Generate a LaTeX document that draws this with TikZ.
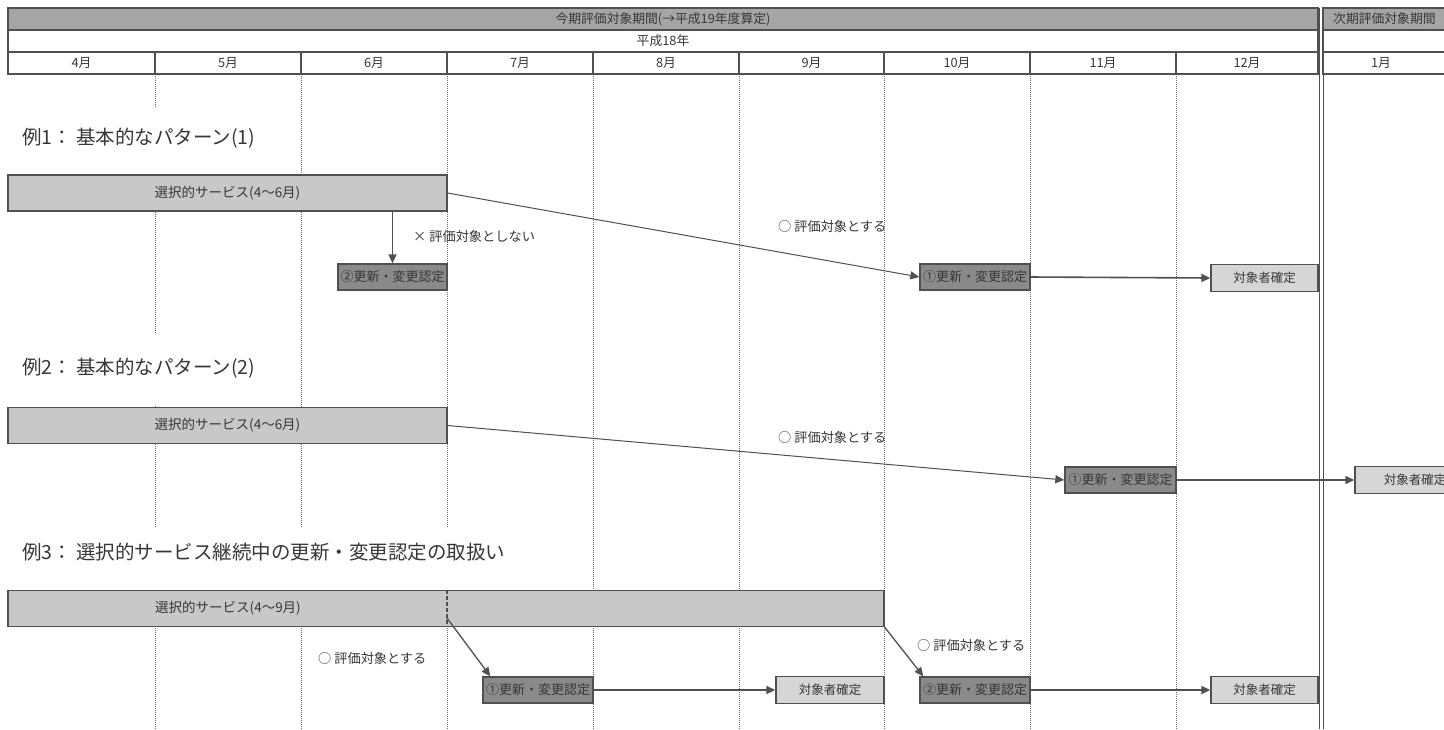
\documentclass[tikz,border=0pt]{standalone}
\usepackage{fontspec}
\setmainfont{Noto Sans CJK JP}
\usetikzlibrary{arrows.meta,calc}
\definecolor{hdrfill}{RGB}{165,165,165}
\definecolor{edge}{RGB}{80,80,80}
\definecolor{barfill}{RGB}{200,200,200}
\definecolor{darkfill}{RGB}{138,138,138}
\definecolor{lightfill}{RGB}{214,214,214}
\definecolor{txt}{RGB}{55,55,55}
\definecolor{gridc}{RGB}{110,110,110}
\begin{document}
\begin{tikzpicture}[x=1pt,y=-1pt,
  gridline/.style={gridc,line width=0.7pt,dash pattern=on 1.2pt off 0.8pt},
  hdrcell/.style={draw=edge,line width=1.2pt,fill=hdrfill,minimum height=22pt,inner sep=0pt,text=txt,font=\fontsize{12.8}{14}\selectfont},
  cell/.style={draw=edge,line width=1.2pt,fill=white,minimum height=22pt,inner sep=0pt,text=txt,font=\fontsize{12.8}{14}\selectfont},
  barbox/.style={draw=edge,line width=1.3pt,fill=barfill,minimum height=36pt,inner sep=0pt,text=txt,font=\fontsize{13.5}{15}\selectfont},
  darkbox/.style={draw=edge,line width=1.3pt,fill=darkfill,minimum height=26pt,inner sep=0pt,text=txt,font=\fontsize{13}{15}\selectfont},
  lightbox/.style={draw=edge,line width=1.3pt,fill=lightfill,minimum height=27pt,minimum width=107pt,inner sep=0pt,text=txt,font=\fontsize{12.5}{14}\selectfont},
  titletext/.style={anchor=west,inner sep=0pt,text=txt,font=\fontsize{19.5}{21}\selectfont},
  labeltext/.style={anchor=west,inner sep=0pt,text=txt,font=\fontsize{13.2}{15}\selectfont},
  bartext/.style={inner sep=0pt,text=txt,font=\fontsize{13.5}{15}\selectfont},
  arr/.style={edge,line width=1.6pt,-{Triangle[length=9pt,width=8pt]}},
  thinarr/.style={edge,line width=1pt,-{Triangle[length=9pt,width=8pt]}}
]
\useasboundingbox (0,0) rectangle (1444,729);
\fill[white] (0,0) rectangle (1444,729);

% month grid lines
\foreach \gx in {155,301,447,593,739,884,1030,1176}
  \draw[gridline] (\gx,74) -- (\gx,729);
% white areas behind the example titles
\fill[white] (12,107) rectangle (290,174);
\fill[white] (12,334) rectangle (290,406);
\fill[white] (12,528) rectangle (540,589);

% header
\node[hdrcell,minimum width=1310pt] (h1) at (663,19) {今期評価対象期間(→平成19年度算定)};
\node[hdrcell,minimum width=140pt] (h2) at (1393,19) {};
\node[anchor=west,inner sep=0pt,text=txt,font=\fontsize{12.8}{14}\selectfont] (h2t) at (1333,19) {次期評価対象期間};
\node[cell,minimum width=1310pt] (y1) at (663,41) {平成18年};
\node[cell,minimum width=140pt] (y2) at (1393,41) {};
\foreach \a/\b/\t [count=\i] in {8/155/4月,155/301/5月,301/447/6月,447/593/7月,593/739/8月,739/884/9月,884/1030/10月,1030/1176/11月,1176/1318/12月}
  \node[cell,minimum width={(\b-\a)*1pt}] (m\i) at ({(\a+\b)/2},63) {\t};
\node[cell,minimum width=140pt] (m10) at (1393,63) {};
\node[inner sep=0pt,text=txt,font=\fontsize{12.8}{14}\selectfont] (m10t) at (1381,63) {1月};

% double boundary line
\draw[edge,line width=1.3pt] (1319.5,8) -- (1319.5,729);
\draw[edge,line width=1.3pt] (1323.5,8) -- (1323.5,729);

% ---------- Example 1
\node[titletext] (t1) at (22,138) {例1：\hspace{4pt}基本的なパターン(1)};
\node[barbox,minimum width=439pt] (b1) at (227.5,193) {選択的サービス(4〜6月)};
\node[darkbox,minimum width=109pt] (d1) at (392.5,277) {②更新・変更認定};
\node[darkbox,minimum width=110pt] (e1) at (975,277) {①更新・変更認定};
\node[lightbox] (f1) at (1264.5,278) {対象者確定};
\draw[arr] (d1.north |- b1.south) -- (d1.north);
\node[labeltext] (l1a) at (413,236) {×\ 評価対象としない};
\draw[thinarr] (b1.east) -- (e1.west);
\node[labeltext] (l1b) at (778,226) {○\ 評価対象とする};
\draw[arr] (e1.east) -- (f1.west);

% ---------- Example 2
\node[titletext] (t2) at (22,368) {例2：\hspace{4pt}基本的なパターン(2)};
\node[barbox,minimum width=439pt] (b2) at (227.5,425.5) {選択的サービス(4〜6月)};
\node[darkbox,minimum width=111pt] (e2) at (1120.5,480) {①更新・変更認定};
\node[lightbox,minimum width=120pt] (f2) at (1415,480) {対象者確定};
\draw[thinarr] (b2.east) -- (e2.west);
\node[labeltext] (l2) at (778,437) {○\ 評価対象とする};
\draw[arr] (e2.east) -- (f2.west);

% ---------- Example 3
\node[titletext] (t3) at (22,552) {例3：\hspace{4pt}選択的サービス継続中の更新・変更認定の取扱い};
\node[barbox,minimum width=876pt] (b3) at (446,608.5) {};
\node[bartext] (b3t) at (228,608.5) {選択的サービス(4〜9月)};
\draw[edge,line width=1.6pt,dash pattern=on 4pt off 2pt] (b3.north -| 447,0) -- (b3.south -| 447,0);
\node[darkbox,minimum width=110pt] (e3) at (538,690) {①更新・変更認定};
\node[lightbox,minimum width=108pt] (f3) at (830,690) {対象者確定};
\node[darkbox,minimum width=110pt] (g3) at (975,690) {②更新・変更認定};
\node[lightbox] (k3) at (1264.5,690) {対象者確定};
\coordinate (s3a) at (447,618);
\draw[thinarr,line width=1.3pt] (s3a) -- ($(e3.north west)+(8,0)$);
\node[labeltext] (l3a) at (318,658) {○\ 評価対象とする};
\draw[arr] (e3.east) -- (f3.west);
\draw[thinarr,line width=1.3pt] (b3.south east) -- ($(g3.north west)+(4,0)$);
\node[labeltext] (l3b) at (917,645) {○\ 評価対象とする};
\draw[arr] (g3.east) -- (k3.west);
\end{tikzpicture}
\end{document}
